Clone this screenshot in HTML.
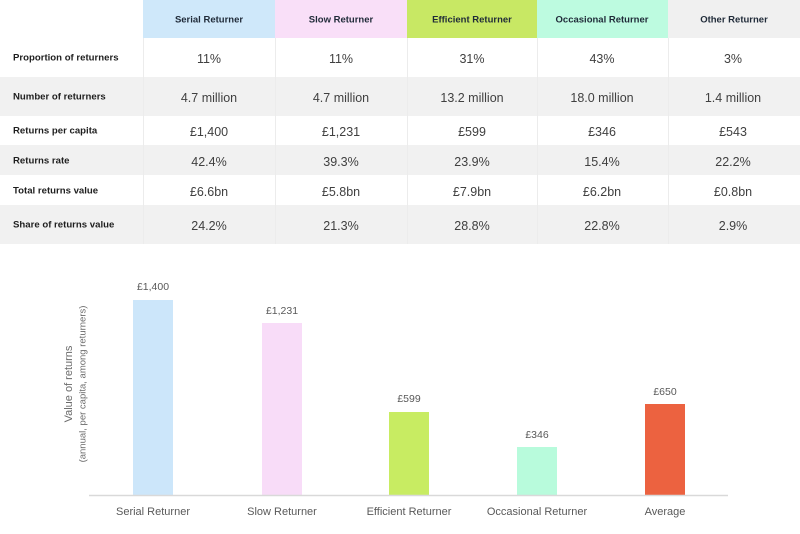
<!DOCTYPE html>
<html>
<head>
<meta charset="utf-8">
<style>
  html,body{margin:0;padding:0;background:#fff;}
  body{width:800px;height:534px;overflow:hidden;}
  svg{display:block;}
  .lbl{font-family:"Liberation Sans",Arial,sans-serif;font-weight:bold;font-size:9.6px;fill:#1e1e1e;}
  .hdr{font-family:"Liberation Sans",Arial,sans-serif;font-weight:bold;font-size:9.5px;fill:#1f2a38;}
  .val{font-family:"Liberation Sans",Arial,sans-serif;font-size:12.5px;fill:#404040;}
  .cv{font-family:"Liberation Sans",Arial,sans-serif;font-size:10.5px;fill:#595959;}
  .cat{font-family:"Liberation Sans",Arial,sans-serif;font-size:11px;fill:#595959;}
  .ax1{font-family:"Liberation Sans",Arial,sans-serif;font-size:11px;fill:#6a6a6a;}
  .ax2{font-family:"Liberation Sans",Arial,sans-serif;font-size:9.5px;fill:#6a6a6a;}
</style>
</head>
<body>
<svg width="800" height="534" viewBox="0 0 800 534" xmlns="http://www.w3.org/2000/svg">
  <rect x="0" y="0" width="800" height="534" fill="#ffffff"/>

  <!-- header cells -->
  <rect x="143" y="0" width="132" height="38" fill="#cfe8fa"/>
  <rect x="275" y="0" width="132" height="38" fill="#f9dff8"/>
  <rect x="407" y="0" width="130" height="38" fill="#c8e864"/>
  <rect x="537" y="0" width="131" height="38" fill="#bdfbe0"/>
  <rect x="668" y="0" width="132" height="38" fill="#f0f0f0"/>

  <!-- gray rows -->
  <rect x="0" y="77" width="800" height="39" fill="#f1f1f1"/>
  <rect x="0" y="145" width="800" height="30" fill="#f1f1f1"/>
  <rect x="0" y="205" width="800" height="39" fill="#f1f1f1"/>

  <!-- faint column separators -->
  <g stroke="#ececec" stroke-width="1">
    <line x1="143.5" y1="38" x2="143.5" y2="244"/>
    <line x1="275.5" y1="38" x2="275.5" y2="244"/>
    <line x1="407.5" y1="38" x2="407.5" y2="244"/>
    <line x1="537.5" y1="38" x2="537.5" y2="244"/>
    <line x1="668.5" y1="38" x2="668.5" y2="244"/>
  </g>

  <!-- header text -->
  <g text-anchor="middle" dominant-baseline="central">
    <text class="hdr" x="209" y="20">Serial Returner</text>
    <text class="hdr" x="341" y="20">Slow Returner</text>
    <text class="hdr" x="472" y="20">Efficient Returner</text>
    <text class="hdr" x="602" y="20">Occasional Returner</text>
    <text class="hdr" x="734" y="20">Other Returner</text>
  </g>

  <!-- row labels -->
  <g dominant-baseline="central">
    <text class="lbl" x="13" y="58">Proportion of returners</text>
    <text class="lbl" x="13" y="97">Number of returners</text>
    <text class="lbl" x="13" y="131">Returns per capita</text>
    <text class="lbl" x="13" y="161">Returns rate</text>
    <text class="lbl" x="13" y="191">Total returns value</text>
    <text class="lbl" x="13" y="225">Share of returns value</text>
  </g>

  <!-- values -->
  <g text-anchor="middle" dominant-baseline="central" class="val">
    <text class="val" x="209" y="59">11%</text>
    <text class="val" x="341" y="59">11%</text>
    <text class="val" x="472" y="59">31%</text>
    <text class="val" x="602" y="59">43%</text>
    <text class="val" x="733" y="59">3%</text>

    <text class="val" x="209" y="98">4.7 million</text>
    <text class="val" x="341" y="98">4.7 million</text>
    <text class="val" x="472" y="98">13.2 million</text>
    <text class="val" x="602" y="98">18.0 million</text>
    <text class="val" x="733" y="98">1.4 million</text>

    <text class="val" x="209" y="132">£1,400</text>
    <text class="val" x="341" y="132">£1,231</text>
    <text class="val" x="472" y="132">£599</text>
    <text class="val" x="602" y="132">£346</text>
    <text class="val" x="733" y="132">£543</text>

    <text class="val" x="209" y="162">42.4%</text>
    <text class="val" x="341" y="162">39.3%</text>
    <text class="val" x="472" y="162">23.9%</text>
    <text class="val" x="602" y="162">15.4%</text>
    <text class="val" x="733" y="162">22.2%</text>

    <text class="val" x="209" y="192">£6.6bn</text>
    <text class="val" x="341" y="192">£5.8bn</text>
    <text class="val" x="472" y="192">£7.9bn</text>
    <text class="val" x="602" y="192">£6.2bn</text>
    <text class="val" x="733" y="192">£0.8bn</text>

    <text class="val" x="209" y="226">24.2%</text>
    <text class="val" x="341" y="226">21.3%</text>
    <text class="val" x="472" y="226">28.8%</text>
    <text class="val" x="602" y="226">22.8%</text>
    <text class="val" x="733" y="226">2.9%</text>
  </g>

  <!-- chart bars -->
  <rect x="133" y="300" width="40" height="195" fill="#cce6fa"/>
  <rect x="262" y="323" width="40" height="172" fill="#f8dcf8"/>
  <rect x="389" y="412" width="40" height="83" fill="#c8ec62"/>
  <rect x="517" y="447" width="40" height="48" fill="#b8fbdc"/>
  <rect x="645" y="404" width="40" height="91" fill="#ec6240"/>

  <!-- axis -->
  <line x1="89" y1="495.5" x2="728" y2="495.5" stroke="#d9d9d9" stroke-width="1.5"/>

  <!-- bar value labels -->
  <g text-anchor="middle" dominant-baseline="central">
    <text class="cv" x="153" y="287">£1,400</text>
    <text class="cv" x="282" y="311">£1,231</text>
    <text class="cv" x="409" y="399">£599</text>
    <text class="cv" x="537" y="435">£346</text>
    <text class="cv" x="665" y="392">£650</text>
  </g>

  <!-- category labels -->
  <g text-anchor="middle" dominant-baseline="central">
    <text class="cat" x="153" y="512">Serial Returner</text>
    <text class="cat" x="282" y="512">Slow Returner</text>
    <text class="cat" x="409" y="512">Efficient Returner</text>
    <text class="cat" x="537" y="512">Occasional Returner</text>
    <text class="cat" x="665" y="512">Average</text>
  </g>

  <!-- y-axis title -->
  <text class="ax1" text-anchor="middle" dominant-baseline="central" transform="translate(69,384) rotate(-90)">Value of returns</text>
  <text class="ax2" text-anchor="middle" dominant-baseline="central" transform="translate(83,384) rotate(-90)">(annual, per capita, among returners)</text>
</svg>
</body>
</html>
